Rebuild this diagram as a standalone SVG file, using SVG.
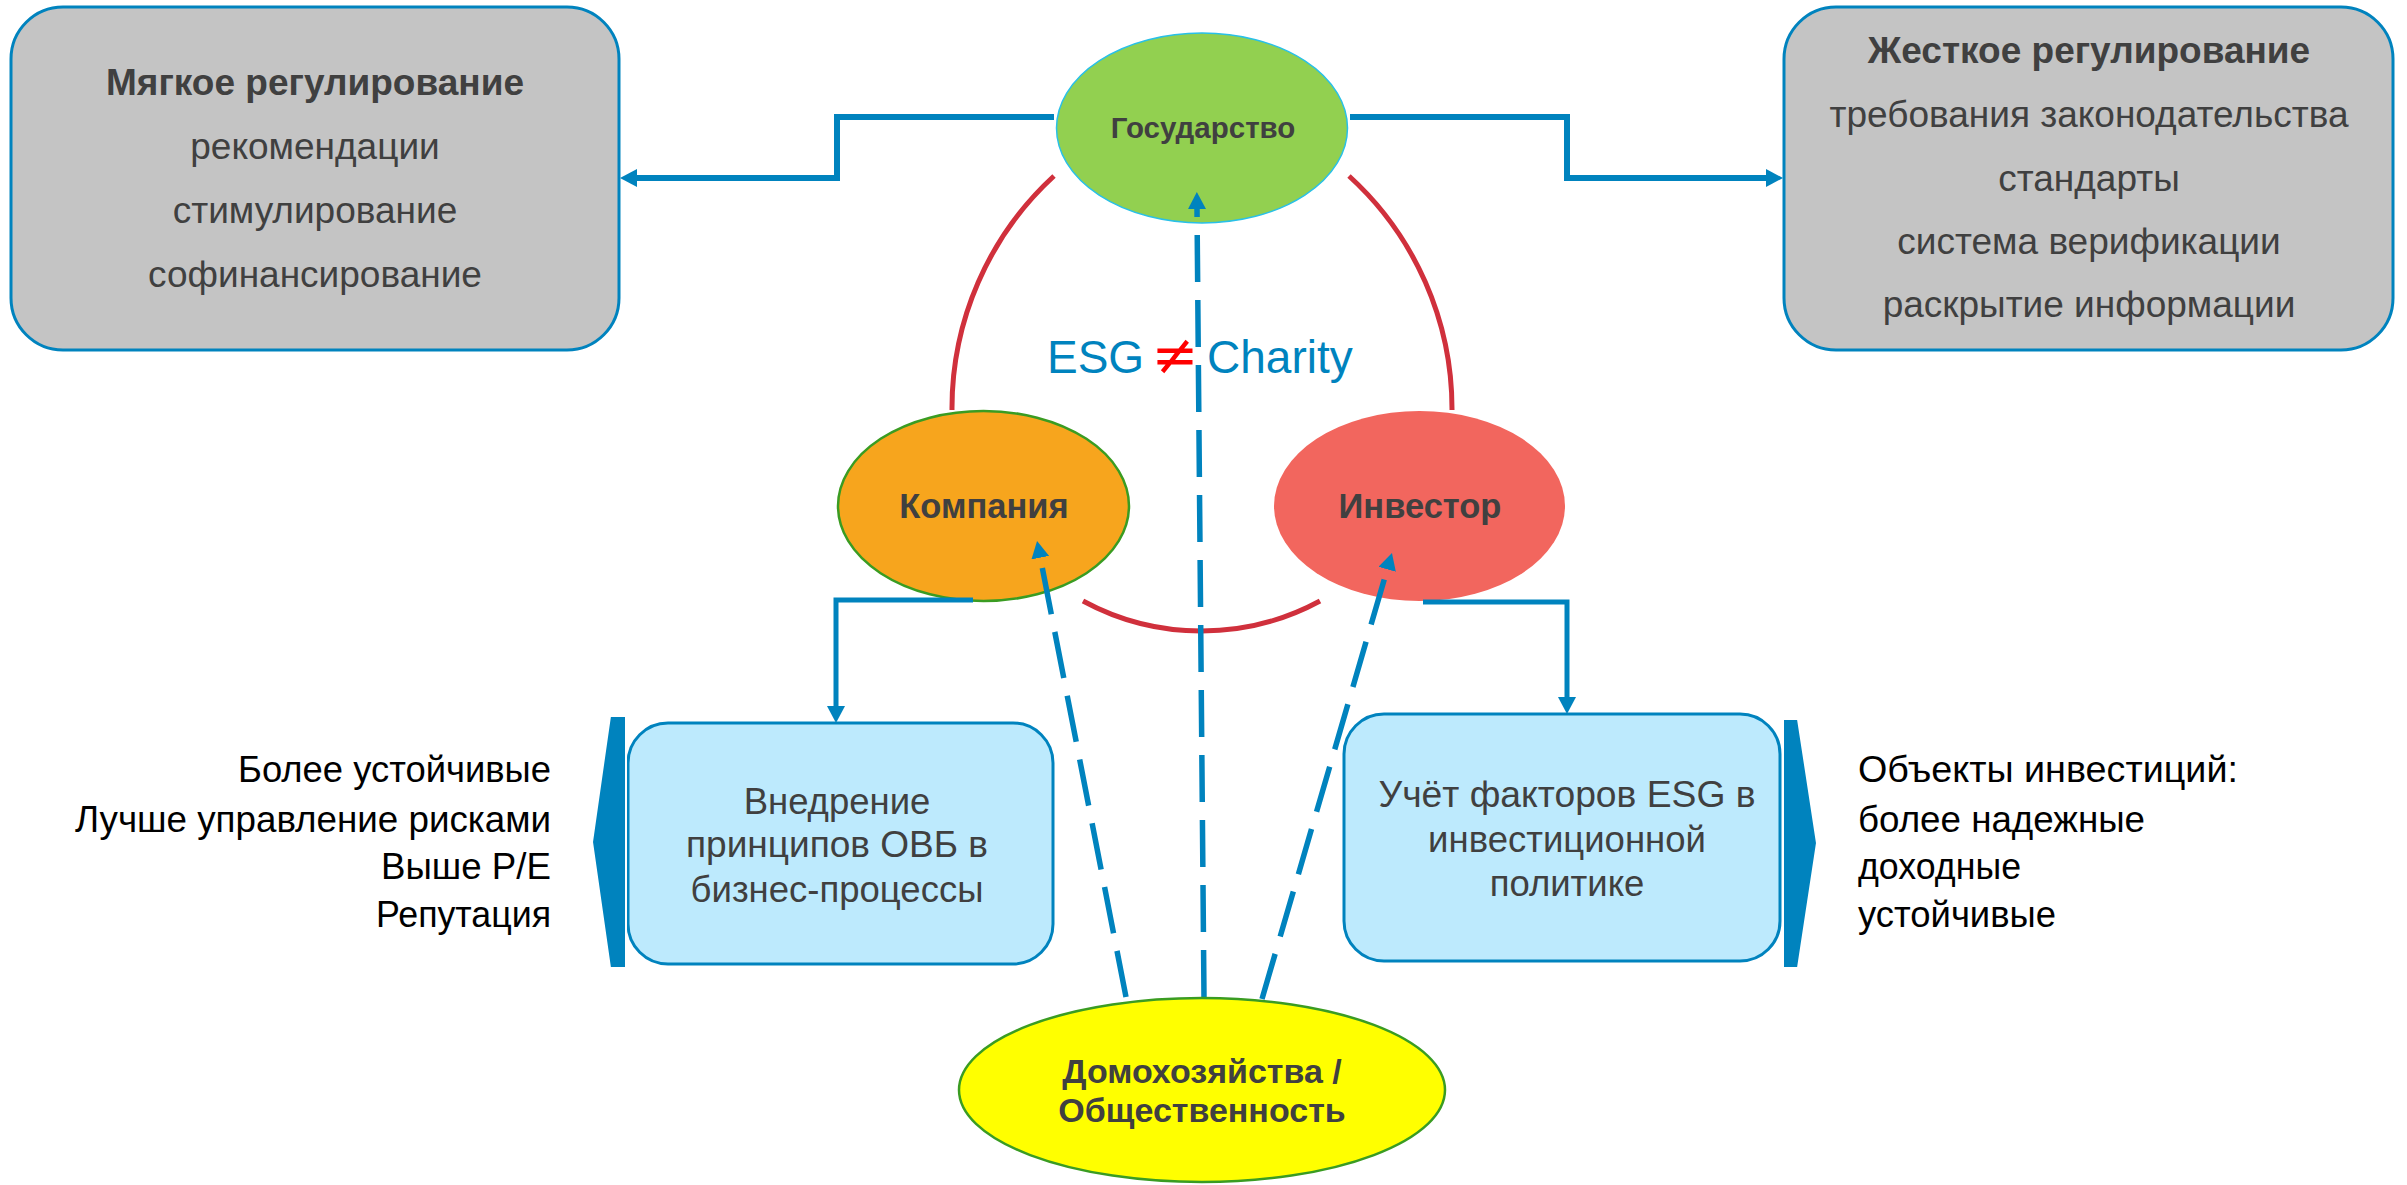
<svg xmlns="http://www.w3.org/2000/svg" width="2407" height="1185" viewBox="0 0 2407 1185">
<style>
.gbox{fill:#c4c4c4;stroke:#0083be;stroke-width:3}
.lbox{fill:#bdeafd;stroke:#0083be;stroke-width:3}
.t{font-family:"Liberation Sans",Arial,sans-serif;fill:#404040}
.b{font-weight:bold}
.side{font-family:"Liberation Sans",Arial,sans-serif;fill:#000;font-size:36px}
.conn{fill:none;stroke:#0083be;stroke-width:6}
.conn2{fill:none;stroke:#0083be;stroke-width:5}
.dash{fill:none;stroke:#0083be;stroke-width:5.5;stroke-dasharray:47 18}
.arc{fill:none;stroke:#d0303c;stroke-width:5}
.brk{fill:#0083be;stroke:#fff;stroke-width:2}
</style>
<defs>
<marker id="ah" markerUnits="userSpaceOnUse" markerWidth="18" markerHeight="18" refX="0" refY="9" orient="auto" viewBox="0 0 18 18">
<path d="M0,0 L17,9 L0,18 z" fill="#0083be"/>
</marker>
</defs>
<rect width="2407" height="1185" fill="#fff"/>

<g id="soft">
<rect class="gbox" x="11" y="7" width="608" height="343" rx="52"/>
<text class="t b" x="315" y="95" font-size="37" text-anchor="middle">Мягкое регулирование</text>
<text class="t" x="315" y="159" font-size="37" text-anchor="middle">рекомендации</text>
<text class="t" x="315" y="223" font-size="37" text-anchor="middle">стимулирование</text>
<text class="t" x="315" y="287" font-size="37" text-anchor="middle">софинансирование</text>
</g>

<g id="hard">
<rect class="gbox" x="1784" y="7" width="609" height="343" rx="52"/>
<text class="t b" x="2089" y="63" font-size="37" text-anchor="middle">Жесткое регулирование</text>
<text class="t" x="2089" y="127" font-size="37" text-anchor="middle">требования законодательства</text>
<text class="t" x="2089" y="191" font-size="37" text-anchor="middle">стандарты</text>
<text class="t" x="2089" y="254" font-size="37" text-anchor="middle">система верификации</text>
<text class="t" x="2089" y="317" font-size="37" text-anchor="middle">раскрытие информации</text>
</g>

<g id="arcs">
<path class="arc" d="M1054,176 A315,315 0 0 0 952,410"/>
<path class="arc" d="M1349,176 A315,315 0 0 1 1452,410"/>
<path class="arc" d="M1083,601 A249,249 0 0 0 1320,601"/>
</g>

<g id="state">
<ellipse cx="1202" cy="128" rx="145.5" ry="95" fill="#92d050" stroke="#29c0e8" stroke-width="1.5"/>
<text class="t b" x="1203" y="138" font-size="29.5" text-anchor="middle">Государство</text>
</g>

<g id="company">
<ellipse cx="983.5" cy="506" rx="145.5" ry="95" fill="#f7a51d" stroke="#3a9c22" stroke-width="2.5"/>
<text class="t b" x="984" y="518" font-size="34.5" text-anchor="middle">Компания</text>
</g>

<g id="investor">
<ellipse cx="1419.5" cy="506" rx="145.5" ry="95" fill="#f2665e"/>
<text class="t b" x="1420" y="518" font-size="34.5" text-anchor="middle">Инвестор</text>
</g>

<g id="esg-label">
<text x="1047" y="373" font-family="Liberation Sans,Arial,sans-serif" font-size="46" fill="#0083be">ESG</text>
<text x="1175" y="374" font-family="DejaVu Sans,sans-serif" font-size="56" fill="#ff0000" text-anchor="middle">≠</text>
<text x="1207" y="373" font-family="Liberation Sans,Arial,sans-serif" font-size="46" fill="#0083be">Charity</text>
</g>

<g id="obv">
<rect class="lbox" x="628" y="723" width="425" height="241" rx="40"/>
<polygon class="brk" points="610,716 626,716 626,968 610,968 592,842"/>
<text class="t" x="837" y="814" font-size="36.5" text-anchor="middle">Внедрение</text>
<text class="t" x="837" y="857" font-size="36.5" text-anchor="middle" textLength="302" lengthAdjust="spacingAndGlyphs">принципов ОВБ в</text>
<text class="t" x="837" y="902" font-size="36.5" text-anchor="middle">бизнес-процессы</text>
</g>

<g id="esg-policy">
<rect class="lbox" x="1344" y="714" width="436" height="247" rx="40"/>
<polygon class="brk" points="1783,719 1798,719 1817,843 1798,968 1783,968"/>
<text class="t" x="1567" y="807" font-size="36.5" text-anchor="middle" textLength="377" lengthAdjust="spacingAndGlyphs">Учёт факторов ESG в</text>
<text class="t" x="1567" y="852" font-size="36.5" text-anchor="middle">инвестиционной</text>
<text class="t" x="1567" y="896" font-size="36.5" text-anchor="middle">политике</text>
</g>

<g id="company-benefits">
<text class="side" x="551" y="782" text-anchor="end" textLength="313" lengthAdjust="spacingAndGlyphs">Более устойчивые</text>
<text class="side" x="551" y="832" text-anchor="end" textLength="476" lengthAdjust="spacingAndGlyphs">Лучше управление рисками</text>
<text class="side" x="551" y="879" text-anchor="end" textLength="170" lengthAdjust="spacingAndGlyphs">Выше P/E</text>
<text class="side" x="551" y="927" text-anchor="end" textLength="175" lengthAdjust="spacingAndGlyphs">Репутация</text>
</g>

<g id="investment-objects">
<text class="side" x="1858" y="782" textLength="380" lengthAdjust="spacingAndGlyphs">Объекты инвестиций:</text>
<text class="side" x="1858" y="832" textLength="287" lengthAdjust="spacingAndGlyphs">более надежные</text>
<text class="side" x="1858" y="879" textLength="163" lengthAdjust="spacingAndGlyphs">доходные</text>
<text class="side" x="1858" y="927" textLength="198" lengthAdjust="spacingAndGlyphs">устойчивые</text>
</g>

<g id="connectors">
<path class="conn" d="M1054,117 H837 V178 H637" marker-end="url(#ah)"/>
<path class="conn" d="M1350,117 H1567 V178 H1766" marker-end="url(#ah)"/>
<path class="conn2" d="M973,600 H836 V706" marker-end="url(#ah)"/>
<path class="conn2" d="M1423,602 H1567 V697" marker-end="url(#ah)"/>
<path class="dash" d="M1204,997 L1197,209" marker-end="url(#ah)"/>
<path class="dash" d="M1126,997 L1040.3,557.7" marker-end="url(#ah)"/>
<path class="dash" d="M1262,999 L1387.2,569.3" marker-end="url(#ah)"/>
</g>

<g id="households">
<ellipse cx="1202" cy="1090" rx="243" ry="92" fill="#ffff00" stroke="#3a9c22" stroke-width="2.5"/>
<text class="t b" x="1202" y="1083" font-size="34" text-anchor="middle">Домохозяйства /</text>
<text class="t b" x="1202" y="1122" font-size="34" text-anchor="middle">Общественность</text>
</g>
</svg>
